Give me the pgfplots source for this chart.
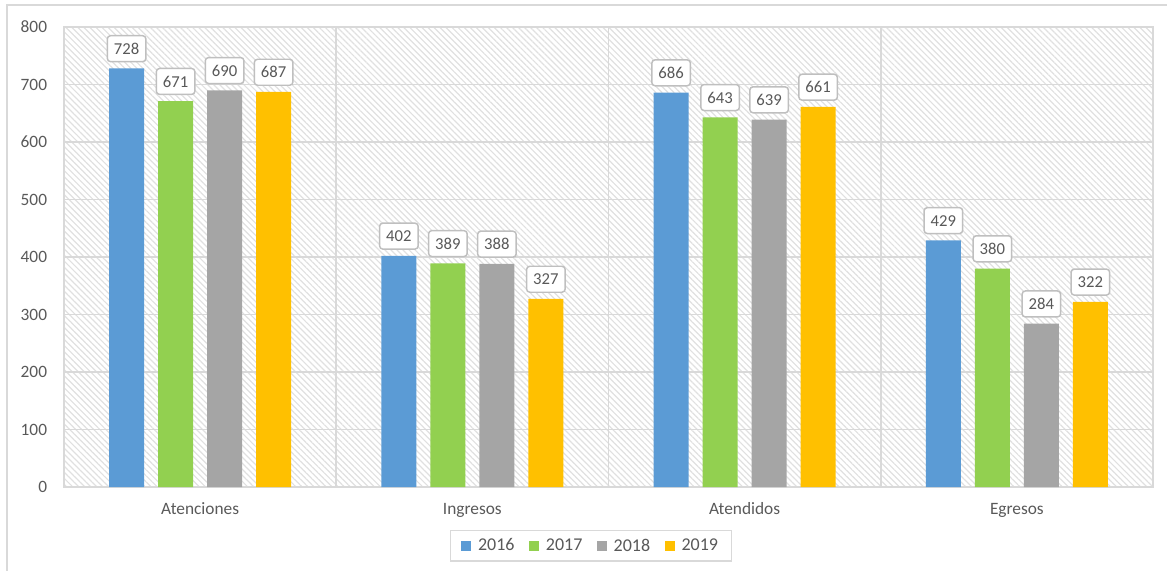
\documentclass[border=0pt]{standalone}
\usepackage{pgfplots}
\pgfplotsset{compat=1.18}
\usepackage{fontspec}
\setmainfont{Carlito}
\usetikzlibrary{patterns.meta}
\definecolor{c16}{HTML}{5B9BD5}
\definecolor{c17}{HTML}{92D050}
\definecolor{c18}{HTML}{A5A5A5}
\definecolor{c19}{HTML}{FFC000}
\definecolor{gridc}{HTML}{D9D9D9}
\definecolor{txt}{HTML}{595959}
\definecolor{hatch}{HTML}{E0E0E0}
\definecolor{lblb}{HTML}{BFBFBF}
\begin{document}
\begin{tikzpicture}
\useasboundingbox (-48pt,-63pt) rectangle (827.25pt,365.25pt);
\draw[gridc, line width=1pt] (-42.75pt,-70pt) -- (-42.75pt,361.5pt) -- (840pt,361.5pt);
\begin{axis}[
  at={(0,0)}, anchor=south west,
  scale only axis, width=816.75pt, height=345pt,
  xmin=-0.5, xmax=3.5, ymin=0, ymax=800,
  ytick={0,100,...,800},
  xtick={0,1,2,3},
  xticklabels={Atenciones,Ingresos,Atendidos,Egresos},
  minor xtick={0.5,1.5,2.5},
  xminorgrids=true, ymajorgrids=true,
  major tick length=0pt, minor tick length=0pt,
  grid style={gridc, line width=1pt},
  minor grid style={gridc, line width=1.3pt},
  axis line style={gridc, line width=1pt},
  axis background/.style={pattern={Lines[angle=-45,distance=3.2pt,line width=0.9pt]}, pattern color=hatch},
  tick label style={font=\fontsize{13}{15}\selectfont, text=txt},
  /pgf/number format/assume math mode=true,
  yticklabel style={anchor=east, inner sep=0pt, xshift=-12.5pt},
  xticklabel style={anchor=base, inner sep=0pt, yshift=-20.25pt},
  ybar=10.5pt, bar width=26.25pt,
  every axis plot/.append style={draw=none},
  nodes near coords,
  nodes near coords style={font=\fontsize{12.5}{14}\selectfont, text=txt, fill=white, draw=lblb, line width=1.1pt, rounded corners=2.5pt, minimum width=29pt, minimum height=19.5pt, inner sep=1pt, anchor=south, yshift=4.5pt},
  legend columns=4,
  legend style={at={(0.484,-0.128)}, anchor=center, draw=gridc, line width=1pt, font=\fontsize{13.5}{15}\selectfont, text=txt, inner xsep=8pt, inner ysep=4pt, /tikz/every odd column/.append style={column sep=3pt}, /tikz/every even column/.append style={column sep=9pt}},
  legend image code/.code={\fill[#1] (0pt,-3.75pt) rectangle (7.5pt,3.75pt);},
]
\addplot[fill=c16] coordinates {(0,728) (1,402) (2,686) (3,429)};
\addplot[fill=c17] coordinates {(0,671) (1,389) (2,643) (3,380)};
\addplot[fill=c18] coordinates {(0,690) (1,388) (2,639) (3,284)};
\addplot[fill=c19] coordinates {(0,687) (1,327) (2,661) (3,322)};
\legend{2016,2017,2018,2019}
\end{axis}
\end{tikzpicture}
\end{document}
